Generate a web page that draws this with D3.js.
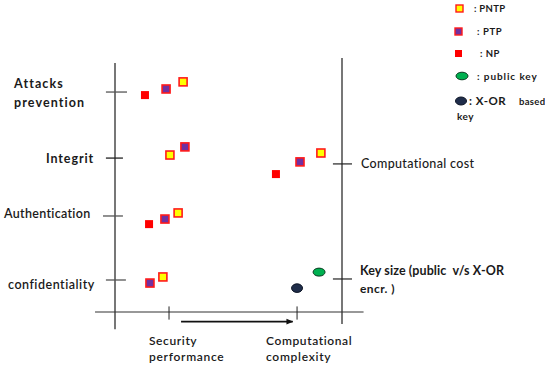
<!DOCTYPE html>
<html>
<head>
<meta charset="utf-8">
<script src="https://cdn.jsdelivr.net/npm/d3@7"></script>
<style>
  html, body { margin: 0; padding: 0; background: #fff; }
  svg { display: block; }
  text { font-family: Lato, "Open Sans", sans-serif; fill: #1a1a1a; white-space: pre; }
</style>
</head>
<body>
<svg id="chart" width="545" height="368"></svg>
<script>
// Security criteria placed on the left axis (value = vertical position)
const leftCriteria = ["Attacks prevention", "Integrit", "Authentication", "confidentiality"];
const leftCriteriaPos = [86.6, 60.6, 37.8, 12.6];

// Cost criteria on the right axis
const rightCriteria = ["Computational cost", "Key size (public  v/s X-OR encr. )"];
const rightCriteriaPos = [58.3, 13.0];

// Horizontal axis tick labels
const xTickLabels = ["Security performance", "Computational complexity"];
const xTickPos = [23.8, 80.2];

// Scheme points: [x, y]
const pntpPoints = [[30.0, 90.6], [24.2, 61.8], [27.8, 39.0], [21.1, 13.8], [90.7, 62.6]];
const ptpPoints  = [[22.5, 87.8], [30.8, 65.0], [22.0, 36.6], [15.4, 11.4], [81.5, 59.1]];
const npPoints   = [[13.2, 85.4], [15.0, 34.6], [70.9, 54.3]];
const publicKeyPoints = [[89.9, 15.7]];
const xorKeyPoints    = [[80.2, 9.4]];

const svg = d3.select("#chart");

const x = d3.scaleLinear().domain([0, 100]).range([115, 342]);
const y = d3.scaleLinear().domain([0, 100]).range([312, 58]);

const axisColor = "#555";

// Left vertical axis with criteria ticks
svg.append("line").attr("x1", x(0)).attr("x2", x(0))
  .attr("y1", y(98)).attr("y2", y(-6.8))
  .attr("stroke", axisColor).attr("stroke-width", 1.6);
const tickHalf = [[-4, 5.3], [-4, 3.5], [-5.3, 3.5], [-4, 4.8]];
leftCriteriaPos.forEach((v, i) => {
  svg.append("line")
    .attr("x1", x(tickHalf[i][0])).attr("x2", x(tickHalf[i][1]))
    .attr("y1", y(v)).attr("y2", y(v))
    .attr("stroke", i === 1 ? "#222" : axisColor).attr("stroke-width", 1.3);
});

// Right vertical axis
svg.append("line").attr("x1", x(100)).attr("x2", x(100))
  .attr("y1", y(100)).attr("y2", y(-4.7))
  .attr("stroke", axisColor).attr("stroke-width", 1.6);
rightCriteriaPos.forEach(v => {
  svg.append("line")
    .attr("x1", x(96)).attr("x2", x(104.4))
    .attr("y1", y(v)).attr("y2", y(v))
    .attr("stroke", "#222").attr("stroke-width", 1.2);
});

// Horizontal axis
svg.append("line").attr("x1", x(-8.8)).attr("x2", x(109.5))
  .attr("y1", y(0)).attr("y2", y(0))
  .attr("stroke", "#333").attr("stroke-width", 1.2);
xTickPos.forEach(v => {
  svg.append("line")
    .attr("x1", x(v)).attr("x2", x(v))
    .attr("y1", y(2.2)).attr("y2", y(-3.0))
    .attr("stroke", "#222").attr("stroke-width", 1);
});

// Direction arrow between the two x ticks
svg.append("defs").append("marker")
  .attr("id", "arrowHead").attr("viewBox", "0 0 10 10")
  .attr("refX", 9).attr("refY", 5)
  .attr("markerWidth", 7).attr("markerHeight", 7)
  .attr("markerUnits", "userSpaceOnUse")
  .attr("orient", "auto")
  .append("path").attr("d", "M0,1 L10,5 L0,9 Z").attr("fill", "#111");
svg.append("line")
  .attr("x1", x(29.1)).attr("x2", x(78.3))
  .attr("y1", y(-3.8)).attr("y2", y(-3.8))
  .attr("stroke", "#111").attr("stroke-width", 1.8)
  .attr("marker-end", "url(#arrowHead)");

function label(tx, ty, size, weight, spacing, str) {
  svg.append("text").attr("x", tx).attr("y", ty)
    .attr("font-size", size).attr("font-weight", weight)
    .attr("letter-spacing", spacing).text(str);
}

// Criteria labels
label(14, 88, 12.5, 700, 1.1, "Attacks");
label(14, 107, 12.5, 700, 1.1, "prevention");
label(46, 163, 12.5, 700, 0.9, leftCriteria[1]);
label(4, 218, 12.5, 600, 0.3, leftCriteria[2]);
label(8, 289, 12.5, 600, 0.5, leftCriteria[3]);

label(361, 168, 12.5, 500, 0.33, rightCriteria[0]);
label(360, 275, 12.5, 700, 0.1, "Key size (public  v/s X-OR");
label(360, 293, 12, 700, 0.4, "encr. )");

label(149, 345, 12, 600, 0.6, "Security");
label(149, 361, 12, 600, 0.7, "performance");
label(266, 345, 12, 600, 0.6, "Computational");
label(266, 361, 12, 600, 0.7, "complexity");

// Square markers
const sq = 8;
function squares(data, fill, stroke) {
  svg.append("g").selectAll("rect").data(data).join("rect")
    .attr("x", d => x(d[0]) - sq / 2).attr("y", d => y(d[1]) - sq / 2)
    .attr("width", sq).attr("height", sq)
    .attr("fill", fill)
    .attr("stroke", stroke).attr("stroke-width", stroke === "none" ? 0 : 1.6);
}
squares(npPoints, "#ff0000", "none");
squares(ptpPoints, "#7030a0", "#ff1a1a");
squares(pntpPoints, "#ffff00", "#ff1a1a");

// Key type markers
svg.append("g").selectAll("ellipse").data(publicKeyPoints).join("ellipse")
  .attr("cx", d => x(d[0])).attr("cy", d => y(d[1]))
  .attr("rx", 6).attr("ry", 4)
  .attr("fill", "#00b050").attr("stroke", "#0b3a20").attr("stroke-width", 1);
svg.append("g").selectAll("ellipse").data(xorKeyPoints).join("ellipse")
  .attr("cx", d => x(d[0])).attr("cy", d => y(d[1]))
  .attr("rx", 5.5).attr("ry", 4.3)
  .attr("fill", "#1f2d4a").attr("stroke", "#0d1526").attr("stroke-width", 1);

// Legend
const legend = svg.append("g");
const lsq = 7;
function legendText(tx, ty, size, spacing, str) {
  legend.append("text").attr("x", tx).attr("y", ty)
    .attr("font-size", size).attr("font-weight", 700)
    .attr("letter-spacing", spacing).text(str);
}
legend.append("rect").attr("x", 456).attr("y", 5).attr("width", lsq).attr("height", lsq)
  .attr("fill", "#ffff00").attr("stroke", "#ff1a1a").attr("stroke-width", 1.4);
legendText(474, 12, 9.5, 0.3, ": PNTP");
legend.append("rect").attr("x", 455).attr("y", 28).attr("width", lsq).attr("height", lsq)
  .attr("fill", "#7030a0").attr("stroke", "#ff1a1a").attr("stroke-width", 1.4);
legendText(477, 35, 9.5, 0.6, ": PTP");
legend.append("rect").attr("x", 455).attr("y", 50).attr("width", lsq).attr("height", lsq)
  .attr("fill", "#ff0000");
legendText(480, 57, 9.5, 0.5, ": NP");
legend.append("ellipse").attr("cx", 462).attr("cy", 76).attr("rx", 6).attr("ry", 3.8)
  .attr("fill", "#00b050").attr("stroke", "#0b3a20").attr("stroke-width", 1);
legendText(477, 80, 10, 0.9, ": public key");
legend.append("ellipse").attr("cx", 461).attr("cy", 101).attr("rx", 5.5).attr("ry", 4)
  .attr("fill", "#1f2d4a").attr("stroke", "#0d1526").attr("stroke-width", 1);
legendText(469, 105, 11.5, 0.5, ": X-OR");
legendText(519, 105, 9.5, 0.3, "based");
legendText(457, 120, 10, 0.5, "key");
</script>
</body>
</html>
